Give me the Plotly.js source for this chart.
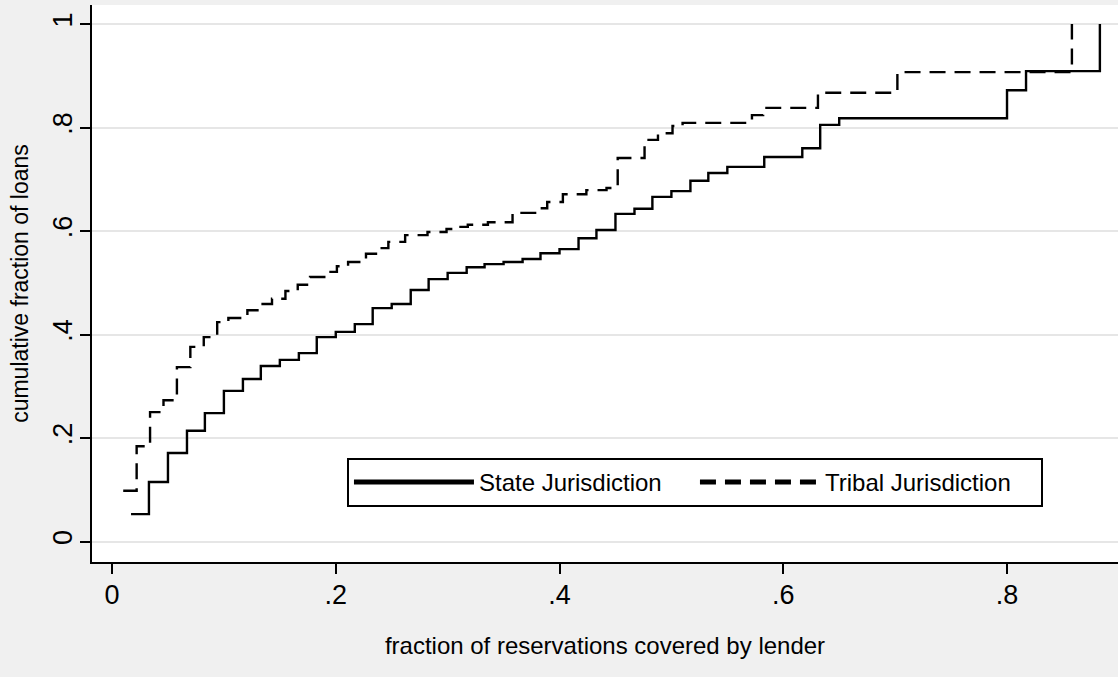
<!DOCTYPE html>
<html><head><meta charset="utf-8">
<script src="https://cdn.plot.ly/plotly-3.0.1.min.js"></script>
<style>html,body{margin:0;padding:0;background:#f0f0f0;overflow:hidden}</style>
</head><body><div id="chart" style="width:1118px;height:677px"></div>
<script>
// Empirical CDF, state jurisdiction (solid)
const stateX = [0.017,0.033,0.05,0.067,0.083,0.1,0.117,0.133,0.15,0.167,0.183,0.2,0.217,0.233,0.25,0.267,0.283,0.3,0.317,0.333,0.35,0.367,0.383,0.4,0.417,0.433,0.45,0.467,0.483,0.5,0.517,0.533,0.55,0.583,0.617,0.633,0.65,0.8,0.817,0.883];
const stateY = [0.053,0.115,0.171,0.214,0.248,0.291,0.314,0.339,0.351,0.364,0.395,0.405,0.420,0.451,0.459,0.486,0.507,0.519,0.530,0.536,0.540,0.546,0.557,0.565,0.586,0.602,0.633,0.643,0.666,0.677,0.697,0.712,0.724,0.743,0.760,0.805,0.818,0.872,0.909,1.0];
// Empirical CDF, tribal jurisdiction (dashed)
const tribalX = [0.010,0.022,0.034,0.046,0.058,0.070,0.082,0.094,0.104,0.121,0.130,0.143,0.155,0.166,0.177,0.192,0.201,0.211,0.227,0.239,0.247,0.262,0.282,0.299,0.310,0.318,0.336,0.358,0.381,0.389,0.403,0.424,0.442,0.452,0.476,0.488,0.501,0.510,0.572,0.582,0.631,0.702,0.858];
const tribalY = [0.098,0.184,0.250,0.273,0.337,0.376,0.395,0.424,0.432,0.447,0.459,0.469,0.484,0.496,0.511,0.521,0.532,0.540,0.556,0.567,0.579,0.592,0.598,0.604,0.608,0.612,0.617,0.635,0.644,0.656,0.671,0.679,0.683,0.741,0.776,0.789,0.803,0.809,0.824,0.838,0.867,0.907,1.0];
const seriesNames = ['State Jurisdiction', 'Tribal Jurisdiction'];
const xTickVals = [0, 0.2, 0.4, 0.6, 0.8];
const xTickText = ['0', '.2', '.4', '.6', '.8'];
const yTickVals = [0, 0.2, 0.4, 0.6, 0.8, 1];
const yTickText = ['0', '.2', '.4', '.6', '.8', '1'];
const xTitle = 'fraction of reservations covered by lender';
const yTitle = 'cumulative fraction of loans';

const FONT = 'Liberation Sans, Arial, sans-serif';

const traces = [
  {x: stateX, y: stateY, name: seriesNames[0], type: 'scatter', mode: 'lines',
   line: {shape: 'hv', color: '#000000', width: 2.4}},
  {x: tribalX, y: tribalY, name: seriesNames[1], type: 'scatter', mode: 'lines',
   line: {shape: 'hv', color: '#000000', width: 2.4, dash: '16px,9px'}}
];

const layout = {
  width: 1118, height: 677,
  paper_bgcolor: '#f0f0f0', plot_bgcolor: '#ffffff',
  margin: {l: 92, r: 0, t: 5, b: 115, pad: 0},
  font: {family: FONT, color: '#000000'},
  showlegend: true,
  legend: {
    orientation: 'h', x: 0.2485, y: 0.1867, xanchor: 'left', yanchor: 'top',
    bgcolor: '#ffffff', bordercolor: '#000000', borderwidth: 2,
    font: {family: FONT, size: 24, color: '#000000'},
    itemwidth: 120, itemsizing: 'constant', entrywidth: 211
  },
  xaxis: {
    range: [-0.0179, 0.8992], tickmode: 'array', tickvals: xTickVals, ticktext: xTickText,
    showgrid: false, zeroline: false, showline: true, linecolor: '#000000', linewidth: 2,
    ticks: 'outside', ticklen: 10, tickwidth: 2, tickcolor: '#000000',
    tickfont: {family: FONT, size: 27, color: '#000000'}, ticklabelstandoff: -2,
    title: {text: xTitle, font: {family: FONT, size: 24, color: '#000000'}, standoff: 28}
  },
  yaxis: {
    range: [-0.0396, 1.0367], tickmode: 'array', tickvals: yTickVals, ticktext: yTickText,
    showgrid: true, gridcolor: '#e6e6e6', gridwidth: 2, zeroline: false,
    showline: true, linecolor: '#000000', linewidth: 2,
    ticks: 'outside', ticklen: 10, tickwidth: 2, tickcolor: '#000000', tickangle: -90,
    tickfont: {family: FONT, size: 27, color: '#000000'}, ticklabelstandoff: -3,
    title: {text: yTitle, font: {family: FONT, size: 23, color: '#000000'}, standoff: 13}
  }
};

Plotly.newPlot('chart', traces, layout, {displayModeBar: false, staticPlot: true});
</script>
</body></html>
